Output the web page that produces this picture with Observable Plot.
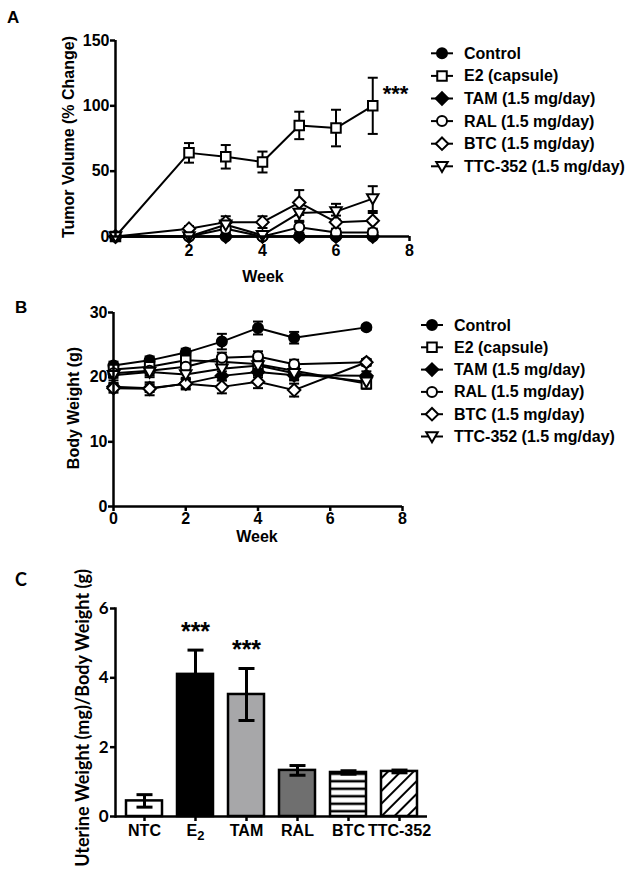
<!DOCTYPE html>
<html><head><meta charset="utf-8">
<script src="https://cdn.jsdelivr.net/npm/d3@7"></script>
<script src="https://cdn.jsdelivr.net/npm/@observablehq/plot@0.6"></script>
<style>
body{margin:0;background:#fff;}
#root{position:relative;width:635px;height:869px;overflow:hidden;background:#fff;}
#root svg{position:absolute;}
</style></head><body><div id="root"></div>
<script>
// ---------------- DATA ----------------
const seriesKeys = ["Control","E2","TAM","RAL","BTC","TTC"];
const seriesLabels = ["Control","E2 (capsule)","TAM (1.5 mg/day)","RAL (1.5 mg/day)","BTC (1.5 mg/day)","TTC-352 (1.5 mg/day)"];

// Panel A: tumor volume (% change)
const weeksA = [0,2,3,4,5,6,7];
const tumorControl = [0,0,0,0,0,0,0];
const tumorE2      = [0,64,61,57,85,83,100];
const tumorTAM     = [0,0,0,0,0,0,0];
const tumorRAL     = [0,0,6,0,7,3,3];
const tumorBTC     = [0,6,11,11,26,11,12];
const tumorTTC     = [0,0,9,1,18,19,29];
const tumorErrControl = [0,0,0,0,0,0,0];
const tumorErrE2      = [0,7.5,9,8,10.5,14,21.5];
const tumorErrTAM     = [0,0,0,0,0,0,0];
const tumorErrRAL     = [0,1,3,1,4,2,2];
const tumorErrBTC     = [0,2,4.5,4.5,9.5,5,6];
const tumorErrTTC     = [0,1,4,2,6,6,9.5];
const tumorTicksX = [2,4,6,8];
const tumorTicksY = [0,50,100,150];

// Panel B: body weight (g)
const weeksB = [0,1,2,3,4,5,7];
const bwControl = [21.8,22.6,23.8,25.5,27.6,26.1,27.7];
const bwE2      = [21.2,21.6,22.6,22.4,22.0,21.0,19.0];
const bwTAM     = [18.5,18.3,19.0,20.2,20.8,20.3,20.2];
const bwRAL     = [20.6,21.0,21.6,23.0,23.2,22.0,22.3];
const bwBTC     = [18.3,18.2,19.0,18.5,19.3,18.0,22.3];
const bwTTC     = [20.3,20.8,20.4,21.3,21.8,20.6,19.3];
const bwErrControl = [0.6,0.6,0.6,1.2,1.0,0.9,0.4];
const bwErrE2      = [0.8,0.8,1.0,1.0,0.9,0.8,0.8];
const bwErrTAM     = [0.6,0.6,0.7,0.7,0.8,0.8,0.7];
const bwErrRAL     = [0.7,0.7,0.8,0.8,0.8,0.7,0.5];
const bwErrBTC     = [0.7,1.0,0.9,1.0,1.0,1.0,0.5];
const bwErrTTC     = [0.8,0.8,0.8,0.9,0.9,0.9,0.9];
const bwTicksX = [0,2,4,6,8];
const bwTicksY = [0,10,20,30];

// Panel C: uterine weight
const groupsC = ["NTC","E2","TAM","RAL","BTC","TTC-352"];
const uterineMean = [0.45,4.1,3.52,1.33,1.27,1.3];
const uterineErr  = [0.18,0.7,0.75,0.14,0.05,0.04];
const uterineSig  = ["","***","***","","",""];
const uterineTicksY = [0,2,4,6];

// ---------------- STYLES ----------------
const ARIAL = "'Liberation Sans', Arial, sans-serif";
const CALI = "Lato, 'Open Sans', sans-serif";
const R = 5;
const sym = {
  circle: {draw(c,s){const r=Math.sqrt(s/Math.PI); c.moveTo(r,0); c.arc(0,0,r,0,2*Math.PI);}},
  square: {draw(c,s){const r=Math.sqrt(s/Math.PI)*0.95; c.rect(-r,-r,2*r,2*r);}},
  diamond:{draw(c,s){const r=Math.sqrt(s/Math.PI)*1.25; c.moveTo(0,-r); c.lineTo(r,0); c.lineTo(0,r); c.lineTo(-r,0); c.closePath();}},
  triDown:{draw(c,s){const r=Math.sqrt(s/Math.PI)*1.15; c.moveTo(-r,-r*0.75); c.lineTo(r,-r*0.75); c.lineTo(0,r); c.closePath();}},
  cap:    {draw(c,s){const r=Math.sqrt(s/Math.PI); c.moveTo(-r,0); c.lineTo(r,0);}}
};
const markerStyle = {
  Control:{symbol:sym.circle, fill:"black"},
  E2:{symbol:sym.square, fill:"white"},
  TAM:{symbol:sym.diamond, fill:"black"},
  RAL:{symbol:sym.circle, fill:"white"},
  BTC:{symbol:sym.diamond, fill:"white"},
  TTC:{symbol:sym.triDown, fill:"white"}
};
const barFill = {NTC:"white", E2:"black", TAM:"#a7a7a9", RAL:"#6f6f6f", BTC:"url(#hstripe)", "TTC-352":"url(#dhatch)"};

function toLong(weeks, vals, errs){
  const out=[];
  seriesKeys.forEach((k,i)=>weeks.forEach((w,j)=>out.push({series:k, week:w, value:vals[i][j], err:errs[i][j]})));
  return out;
}
const dataA = toLong(weeksA,[tumorControl,tumorE2,tumorTAM,tumorRAL,tumorBTC,tumorTTC],
  [tumorErrControl,tumorErrE2,tumorErrTAM,tumorErrRAL,tumorErrBTC,tumorErrTTC]);
const dataB = toLong(weeksB,[bwControl,bwE2,bwTAM,bwRAL,bwBTC,bwTTC],
  [bwErrControl,bwErrE2,bwErrTAM,bwErrRAL,bwErrBTC,bwErrTTC]);
const dataC = groupsC.map((g,i)=>({group:g, value:uterineMean[i], err:uterineErr[i], sig:uterineSig[i]}));

function seriesMarks(data){
  const withErr = data.filter(d=>d.err>0);
  const marks = [
    Plot.line(data,{x:"week",y:"value",z:"series",stroke:"black",strokeWidth:2}),
    Plot.ruleX(withErr,{x:"week",y1:d=>d.value-d.err,y2:d=>d.value+d.err,stroke:"black",strokeWidth:2}),
    Plot.dot(withErr,{x:"week",y:d=>d.value+d.err,symbol:sym.cap,r:5,fill:"none",stroke:"black",strokeWidth:2}),
    Plot.dot(withErr,{x:"week",y:d=>d.value-d.err,symbol:sym.cap,r:5,fill:"none",stroke:"black",strokeWidth:2})
  ];
  seriesKeys.forEach(k=>{
    marks.push(Plot.dot(data.filter(d=>d.series===k),{x:"week",y:"value",symbol:markerStyle[k].symbol,r:R,
      fill:markerStyle[k].fill,stroke:"black",strokeWidth:2}));
  });
  return marks;
}
const baseStyle = {fontFamily:ARIAL,fontSize:"16px",fontWeight:"bold",color:"black",background:"transparent",overflow:"visible"};

const root = document.getElementById("root");

// ---------------- PANEL A ----------------
const plotA = Plot.plot({
  width:430,height:300,marginLeft:115,marginRight:21,marginTop:40,marginBottom:64,
  x:{domain:[0,8]}, y:{domain:[0,150]},
  style:baseStyle,
  marks:[
    ...seriesMarks(dataA),
    Plot.ruleY([0],{x1:0,x2:8,strokeWidth:2.5}),
    Plot.ruleX([0],{y1:0,y2:150,strokeWidth:2.5}),
    Plot.axisX({ticks:tumorTicksX,tickSize:5,tickPadding:3,strokeWidth:2.5,label:null,fontSize:16}),
    Plot.axisY({ticks:tumorTicksY,tickSize:5,tickPadding:1,strokeWidth:2.5,label:null,fontSize:16}),
    Plot.text(dataA.filter(d=>d.series==="E2" && d.week===7),{x:"week",y:"value",text:()=>"***",dx:10,dy:-12,textAnchor:"start",fontSize:22,fontWeight:"bold"})
  ]
});
plotA.style.left="0px"; plotA.style.top="0px";
root.appendChild(plotA);

// ---------------- PANEL B ----------------
const plotB = Plot.plot({
  width:430,height:275,marginLeft:113,marginRight:28,marginTop:32,marginBottom:49,
  x:{domain:[0,8]}, y:{domain:[0,30]},
  style:baseStyle,
  marks:[
    ...seriesMarks(dataB),
    Plot.ruleY([0],{x1:0,x2:8,strokeWidth:2.5}),
    Plot.ruleX([0],{y1:0,y2:30,strokeWidth:2.5}),
    Plot.axisX({ticks:bwTicksX,tickSize:5,tickPadding:1,strokeWidth:2.5,label:null,fontSize:16}),
    Plot.axisY({ticks:bwTicksY,tickSize:5,tickPadding:1,strokeWidth:2.5,label:null,fontSize:16})
  ]
});
plotB.style.left="0px"; plotB.style.top="280px";
root.appendChild(plotB);

// ---------------- PANEL C ----------------
const plotC = Plot.plot({
  width:440,height:309,marginLeft:115,marginRight:13,marginTop:48,marginBottom:53,
  x:{domain:groupsC,paddingInner:0.3,paddingOuter:0.17},
  y:{domain:[0,6]},
  color:{type:"identity"},
  style:baseStyle,
  marks:[
    Plot.barY(dataC,{x:"group",y:"value",fill:d=>barFill[d.group],stroke:"black",strokeWidth:2.5}),
    Plot.ruleX(dataC,{x:"group",y1:d=>d.value-d.err,y2:d=>d.value+d.err,stroke:"black",strokeWidth:3}),
    Plot.dot(dataC,{x:"group",y:d=>d.value+d.err,symbol:sym.cap,r:8,fill:"none",stroke:"black",strokeWidth:3}),
    Plot.dot(dataC,{x:"group",y:d=>d.value-d.err,symbol:sym.cap,r:8,fill:"none",stroke:"black",strokeWidth:3}),
    Plot.ruleY([0],{strokeWidth:2.5}),
    Plot.frame({anchor:"left",strokeWidth:2.5}),
    Plot.axisX({tickSize:5,tickPadding:3,strokeWidth:2.5,label:null,fontSize:16}),
    Plot.axisY({ticks:uterineTicksY,tickFormat:d=>String(d),tickSize:5,tickPadding:2,strokeWidth:2.5,label:null,fontFamily:CALI,fontSize:17}),
    Plot.text(dataC.filter(d=>d.sig),{x:"group",y:d=>d.value+d.err,text:"sig",dy:-18,fontSize:25,fontWeight:"bold"})
  ]
});
plotC.style.left="0px"; plotC.style.top="560px";
// subscript for E2 tick label
d3.select(plotC).selectAll("text").filter(function(){return this.textContent==="E2";}).each(function(){
  const t = d3.select(this); t.text("E");
  t.append("tspan").attr("dy","0.35em").attr("font-size",13).text("2");
});
const defs = d3.select(plotC).insert("defs",":first-child");
const hp = defs.append("pattern").attr("id","hstripe").attr("patternUnits","userSpaceOnUse").attr("width",8).attr("height",7.5);
hp.append("rect").attr("width",8).attr("height",7.5).attr("fill","white");
hp.append("rect").attr("y",2.5).attr("width",8).attr("height",2.5).attr("fill","black");
const dp = defs.append("pattern").attr("id","dhatch").attr("patternUnits","userSpaceOnUse").attr("width",9).attr("height",9).attr("patternTransform","rotate(45)");
dp.append("rect").attr("width",9).attr("height",9).attr("fill","white");
dp.append("rect").attr("x",0).attr("width",2).attr("height",9).attr("fill","black");
root.appendChild(plotC);

// ---------------- OVERLAY: labels & legends ----------------
const ov = d3.select(root).append("svg").attr("width",635).attr("height",869).style("left","0px").style("top","0px")
  .attr("font-family",ARIAL).attr("font-weight","bold").attr("fill","black");
ov.append("text").attr("x",7).attr("y",23).attr("font-size",17).text("A");
ov.append("text").attr("x",15).attr("y",313).attr("font-size",17).text("B");
ov.append("text").attr("x",15).attr("y",586).attr("font-size",18).attr("font-family",CALI).text("C");

function yTitle(cx,cy,txt,font,size){
  ov.append("text").attr("transform",`translate(${cx},${cy}) rotate(-90)`).attr("text-anchor","middle")
    .attr("dominant-baseline","central").attr("font-size",size).attr("font-family",font).text(txt);
}
yTitle(68,137,"Tumor Volume (% Change)",ARIAL,16);
yTitle(73,408,"Body Weight (g)",ARIAL,16);
yTitle(82,718,"Uterine Weight (mg)/Body Weight (g)",CALI,18);
ov.append("text").attr("x",263).attr("y",282).attr("text-anchor","middle").attr("font-size",16).text("Week");
ov.append("text").attr("x",257).attr("y",542).attr("text-anchor","middle").attr("font-size",16).text("Week");

function legend(lx1,lx2,tx,rows){
  seriesKeys.forEach((k,i)=>{
    const y = rows[0] + i*(rows[1]-rows[0]);
    ov.append("line").attr("x1",lx1).attr("x2",lx2).attr("y1",y).attr("y2",y).attr("stroke","black").attr("stroke-width",2);
    ov.append("path").attr("d",d3.symbol(markerStyle[k].symbol,Math.PI*R*R)()).attr("transform",`translate(${(lx1+lx2)/2},${y})`)
      .attr("fill",markerStyle[k].fill).attr("stroke","black").attr("stroke-width",2);
    ov.append("text").attr("x",tx).attr("y",y).attr("dominant-baseline","central").attr("font-size",16).text(seriesLabels[i]);
  });
}
legend(431,453,464,[53.3,75.9]);
legend(421,443,454,[325,347.3]);
</script></body></html>
